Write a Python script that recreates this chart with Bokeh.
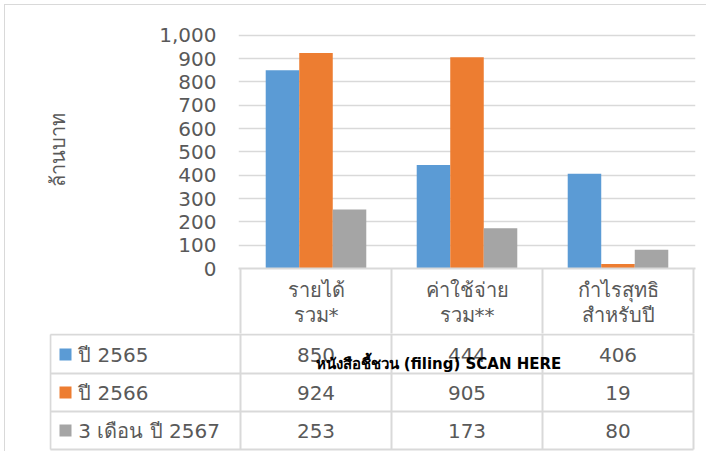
from bokeh.plotting import figure
from bokeh.layouts import column
from bokeh.models import Range1d, FixedTicker, NumeralTickFormatter, ColumnDataSource
from bokeh.transform import dodge
from bokeh.core.properties import value
from bokeh.embed import file_html
from bokeh.resources import INLINE

# ---- data ----
categories = ["รายได้\nรวม*", "ค่าใช้จ่าย\nรวม**", "กำไรสุทธิ\nสำหรับปี"]
series_names = ["ปี 2565", "ปี 2566", "3 เดือน ปี 2567"]
y2565 = [850, 444, 406]
y2566 = [924, 905, 19]
y2567 = [253, 173, 80]
y_ticks = [0, 100, 200, 300, 400, 500, 600, 700, 800, 900, 1000]
y_title = "ล้านบาท"
watermark = "หนังสือชี้ชวน (filing) SCAN HERE"

colors = ["#5B9BD5", "#ED7D31", "#A5A5A5"]
FONT = "DejaVu Sans"
TXT = "#595959"
LINE = "#d9d9d9"
FS = "20px"

# layout constants
K = 233.3 / 1000.0          # px per value unit
XPAD = 2 / 151.0            # small pad so edge lines are not clipped
X0 = -1.265                 # left edge of legend column (category units)
HEADER = 65                 # height of the table header row (px)

n = len(categories)
cx = [i + 0.5 for i in range(n)]
edges = [float(i) for i in range(n + 1)]

# ---- chart, with the table header as its x axis (top) ----
src = ColumnDataSource(dict(xc=cx, a=y2565, b=y2566, c=y2567))
p1 = figure(width=701, height=328, x_range=Range1d(-XPAD, n + XPAD),
            y_range=Range1d(0, 238 / K), output_backend="svg", toolbar_location=None,
            min_border_left=233, min_border_right=11, min_border_top=25,
            min_border_bottom=HEADER, frame_align=False)
bw = 0.222
for key, off, col in zip(["a", "b", "c"], [-bw, 0, bw], colors):
    p1.vbar(x=dodge("xc", off), top=key, width=bw, source=src,
            fill_color=col, line_color=None)
p1.xgrid.visible = False
p1.outline_line_color = None
p1.ygrid.grid_line_color = LINE
p1.ygrid.grid_line_width = 1.5
p1.ygrid.ticker = FixedTicker(ticks=y_ticks)

ay = p1.yaxis[0]
ay.ticker = FixedTicker(ticks=y_ticks)
ay.formatter = NumeralTickFormatter(format="0,0")
ay.axis_line_color = None
ay.major_tick_line_color = None
ay.minor_tick_line_color = None
ay.major_tick_out = 0
ay.major_label_standoff = 22
ay.major_label_text_font = FONT
ay.major_label_text_font_size = FS
ay.major_label_text_color = TXT
ay.axis_label = y_title
ay.axis_label_text_font = FONT
ay.axis_label_text_font_size = FS
ay.axis_label_text_font_style = "normal"
ay.axis_label_text_color = TXT
ay.axis_label_standoff = 86

axx = p1.xaxis[0]
axx.ticker = FixedTicker(ticks=cx, minor_ticks=edges)
axx.major_label_overrides = {c: lab for c, lab in zip(cx, categories)}
axx.axis_line_color = LINE
axx.axis_line_width = 2
axx.major_tick_line_color = None
axx.major_tick_out = 0
axx.major_tick_in = 0
axx.minor_tick_line_color = LINE
axx.minor_tick_line_width = 2
axx.minor_tick_out = HEADER
axx.minor_tick_in = 0
axx.major_label_standoff = 9 - HEADER
axx.major_label_text_font = FONT
axx.major_label_text_font_size = FS
axx.major_label_text_color = TXT
axx.major_label_text_line_height = 1.08

# ---- data rows (bottom) ----
p2 = figure(width=701, height=118, x_range=Range1d(X0, n + XPAD), y_range=Range1d(183, 65),
            output_backend="svg", toolbar_location=None,
            min_border_left=44, min_border_right=11, min_border_top=0, min_border_bottom=0,
            frame_align=False)
p2.axis.visible = False
p2.grid.visible = False
p2.outline_line_color = None

xl = X0 + 0.006
p2.segment(x0=[xl] * 4, x1=[n] * 4, y0=[66, 105, 143, 181], y1=[66, 105, 143, 181],
           line_color=LINE, line_width=2)
p2.segment(x0=edges + [xl], x1=edges + [xl],
           y0=[60] * (n + 1) + [66], y1=[181] * (n + 2), line_color=LINE, line_width=2)

row_c = [86, 124, 162]
for vals, yc in zip([y2565, y2566, y2567], row_c):
    p2.text(x=cx, y=[yc] * n, text=[f"{v:,}" for v in vals], text_align="center",
            text_baseline="middle", text_font=value(FONT), text_font_size=FS, text_color=TXT)

p2.scatter(x=[-1.159] * 3, y=row_c, marker="square", size=12, fill_color=colors, line_color=None)
p2.text(x=[-1.075] * 3, y=row_c, text=series_names, text_align="left", text_baseline="middle",
        text_font=value(FONT), text_font_size=FS, text_color=TXT)

p2.text(x=[1.311], y=[95], text=[watermark], text_align="center", text_baseline="middle",
        text_font=value(FONT), text_font_size="15px", text_font_style="bold", text_color="black")

layout = column(p1, p2, spacing=0,
                styles={"position": "relative", "left": "4px", "top": "4px",
                        "border-left": "1px solid #d9d9d9", "border-top": "1px solid #d9d9d9"})

open("out.html", "w").write(file_html(layout, INLINE))
